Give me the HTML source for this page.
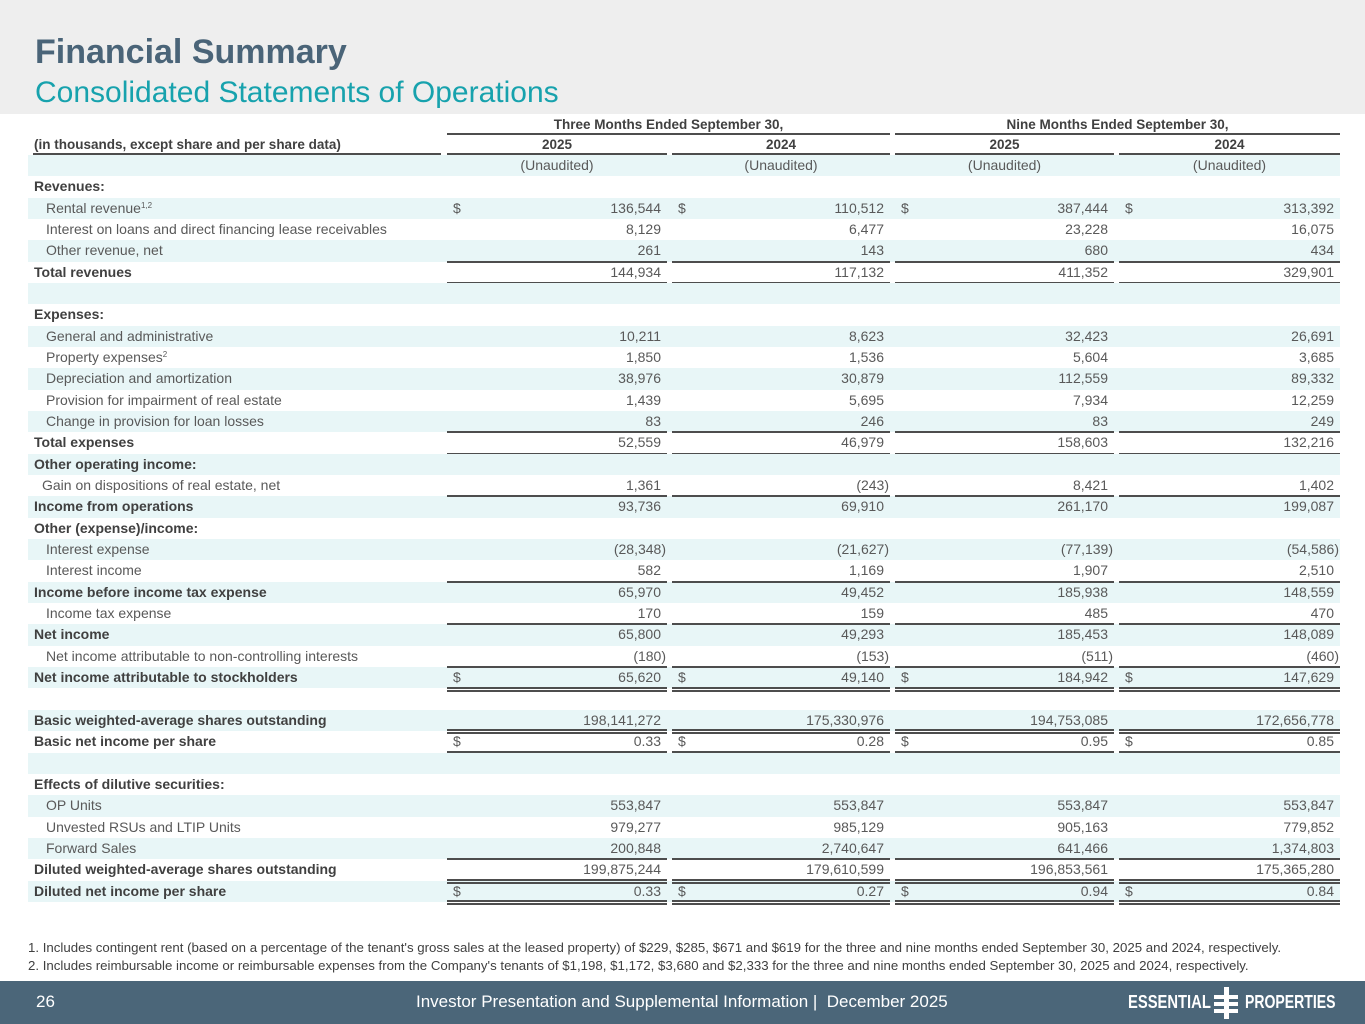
<!DOCTYPE html>
<html><head><meta charset="utf-8">
<style>
*{margin:0;padding:0;box-sizing:border-box}
body{width:1365px;height:1024px;position:relative;background:#fff;font-family:"Liberation Sans",Arial,sans-serif;color:#595959;overflow:hidden}
#hdr{position:absolute;left:0;top:0;width:1365px;height:114px;background:#eeeeee}
#t1{position:absolute;left:35px;top:33px;font-size:34px;font-weight:bold;color:#4a6478}
#t2{position:absolute;left:35px;top:76px;font-size:30px;color:#17a2ad}
.row{position:absolute;left:28px;width:1312px;height:21.34px;font-size:14px;line-height:21.34px}
.s{background:#e8f6f7}
.lab{position:absolute;left:6px;white-space:nowrap}
.ind{left:18px}
.b{font-weight:bold;color:#404040}
.num{position:absolute;text-align:right;white-space:nowrap}
.dol{position:absolute}
.ln{position:absolute;height:2px;background:#4d4d4d}
.hd{position:absolute;font-size:13.5px;font-weight:bold;color:#404040;text-align:center;white-space:nowrap}
sup{font-size:8px;vertical-align:5px;line-height:0}
.fn{position:absolute;left:28px;font-size:13.25px;color:#404040;white-space:nowrap}
#foot{position:absolute;left:0;top:981px;width:1365px;height:43px;background:#4b6679;color:#fff}
</style></head><body>
<div id="hdr"></div>
<div id="t1">Financial Summary</div>
<div id="t2">Consolidated Statements of Operations</div>
<div id="tbl"></div>
<div class="fn" style="top:940px">1. Includes contingent rent (based on a percentage of the tenant's gross sales at the leased property) of $229, $285, $671 and $619 for the three and nine months ended September 30, 2025 and 2024, respectively.</div>
<div class="fn" style="top:958px">2. Includes reimbursable income or reimbursable expenses from the Company's tenants of $1,198, $1,172, $3,680 and $2,333 for the three and nine months ended September 30, 2025 and 2024, respectively.</div>
<div id="foot">
<div style="position:absolute;left:36px;top:11px;font-size:17px">26</div>
<div style="position:absolute;left:416px;top:11px;font-size:17px;white-space:pre">Investor Presentation and Supplemental Information |  December 2025</div>
<div style="position:absolute;left:1128px;top:11px;font-size:18px;font-weight:bold;transform:scaleX(0.82);transform-origin:left">ESSENTIAL</div>
<div style="position:absolute;left:1214px;top:6px;width:24px;height:32px">
<div style="position:absolute;left:10px;top:0;width:5px;height:32px;background:#fff"></div>
<div style="position:absolute;left:0;top:8px;width:24px;height:4px;background:#fff"></div>
<div style="position:absolute;left:0;top:15px;width:24px;height:4px;background:#fff"></div>
<div style="position:absolute;left:0;top:22px;width:24px;height:4px;background:#fff"></div>
</div>
<div style="position:absolute;left:1245px;top:11px;font-size:18px;font-weight:bold;transform:scaleX(0.78);transform-origin:left">PROPERTIES</div>
</div>
<script>
const labels=["","Revenues:","Rental revenue","Interest on loans and direct financing lease receivables","Other revenue, net","Total revenues","","Expenses:","General and administrative","Property expenses","Depreciation and amortization","Provision for impairment of real estate","Change in provision for loan losses","Total expenses","Other operating income:","Gain on dispositions of real estate, net","Income from operations","Other (expense)/income:","Interest expense","Interest income","Income before income tax expense","Income tax expense","Net income","Net income attributable to non-controlling interests","Net income attributable to stockholders","","Basic weighted-average shares outstanding","Basic net income per share","","Effects of dilutive securities:","OP Units","Unvested RSUs and LTIP Units","Forward Sales","Diluted weighted-average shares outstanding","Diluted net income per share"];
const q3_2025=["(Unaudited)","","136,544","8,129","261","144,934","","","10,211","1,850","38,976","1,439","83","52,559","","1,361","93,736","","(28,348)","582","65,970","170","65,800","(180)","65,620","","198,141,272","0.33","","","553,847","979,277","200,848","199,875,244","0.33"];
const q3_2024=["(Unaudited)","","110,512","6,477","143","117,132","","","8,623","1,536","30,879","5,695","246","46,979","","(243)","69,910","","(21,627)","1,169","49,452","159","49,293","(153)","49,140","","175,330,976","0.28","","","553,847","985,129","2,740,647","179,610,599","0.27"];
const nm_2025=["(Unaudited)","","387,444","23,228","680","411,352","","","32,423","5,604","112,559","7,934","83","158,603","","8,421","261,170","","(77,139)","1,907","185,938","485","185,453","(511)","184,942","","194,753,085","0.95","","","553,847","905,163","641,466","196,853,561","0.94"];
const nm_2024=["(Unaudited)","","313,392","16,075","434","329,901","","","26,691","3,685","89,332","12,259","249","132,216","","1,402","199,087","","(54,586)","2,510","148,559","470","148,089","(460)","147,629","","172,656,778","0.85","","","553,847","779,852","1,374,803","175,365,280","0.84"];
const boldRows=[1,5,7,13,14,16,17,20,22,24,26,27,29,33,34];
const dollarRows=[2,24,27,34];
const topLine=[5,13,16,20,22,24,33];
const topDouble=[27,34];
const botLine=[5,13];
const botDouble=[24,27,34];
const supers={2:"1,2",9:"2"};
const cols=[[447,667],[672,890],[895,1114],[1119,1340]];
const series=[q3_2025,q3_2024,nm_2025,nm_2024];
const T0=155,RH=21.34;
const tbl=document.getElementById('tbl');
function mk(cls,parent){const d=document.createElement('div');d.className=cls;parent.appendChild(d);return d;}
function line(x1,x2,y,nm){const l=mk('ln',tbl);l.style.left=x1+'px';l.style.width=(x2-x1)+'px';l.style.top=y+'px';

}
[["Three Months Ended September 30,",447,890],["Nine Months Ended September 30,",895,1340]].forEach((h,i)=>{
const d=mk('hd',tbl);d.textContent=h[0];d.style.left=h[1]+'px';d.style.width=(h[2]-h[1])+'px';d.style.top='117px';


line(h[1],h[2],133,'period-header-rule');});
const lh=mk('hd',tbl);lh.textContent="(in thousands, except share and per share data)";lh.style.left='34px';lh.style.top='137px';


line(33,441,153,'label-header-rule');
["2025","2024","2025","2024"].forEach((y,i)=>{const d=mk('hd',tbl);d.textContent=y;d.style.left=cols[i][0]+'px';d.style.width=(cols[i][1]-cols[i][0])+'px';d.style.top='137px';


line(cols[i][0],cols[i][1],153,'year-header-rule');});
labels.forEach((lab,r)=>{
const row=mk('row'+(r%2==0?' s':''),tbl);row.style.top=(T0+r*RH)+'px';


const isB=boldRows.includes(r);
const L=mk('lab'+(isB?' b':(lab&&r!=0?' ind':'')),row);
if(r==15)L.style.left='14px';
L.innerHTML=lab+(supers[r]?'<sup>'+supers[r]+'</sup>':'');


series.forEach((s,c)=>{const v=s[r];if(!v)return;
const n=mk('num',row);
if(r==0){n.style.left=(cols[c][0]-28)+'px';n.style.width=(cols[c][1]-cols[c][0])+'px';n.style.textAlign='center';n.textContent=v;}
else{const neg=v.startsWith('(');n.style.right=(1340-cols[c][1]+(neg?1:6))+'px';n.textContent=v;}


if(dollarRows.includes(r)){const d=mk('dol',row);d.textContent='$';d.style.left=(cols[c][0]-28+6)+'px';

}
});
const yt=T0+r*RH,yb=yt+RH;
cols.forEach(cc=>{
if(topLine.includes(r))line(cc[0],cc[1],yt-1,'total-rule');
if(topDouble.includes(r)){line(cc[0],cc[1],yt-2,'double-rule');line(cc[0],cc[1],yt+1,'double-rule');}
if(botLine.includes(r))line(cc[0],cc[1],yb-1,'total-rule');
if(botDouble.includes(r)){line(cc[0],cc[1],yb-2,'double-rule');line(cc[0],cc[1],yb+1,'double-rule');}
});
});
</script>
</body></html>
